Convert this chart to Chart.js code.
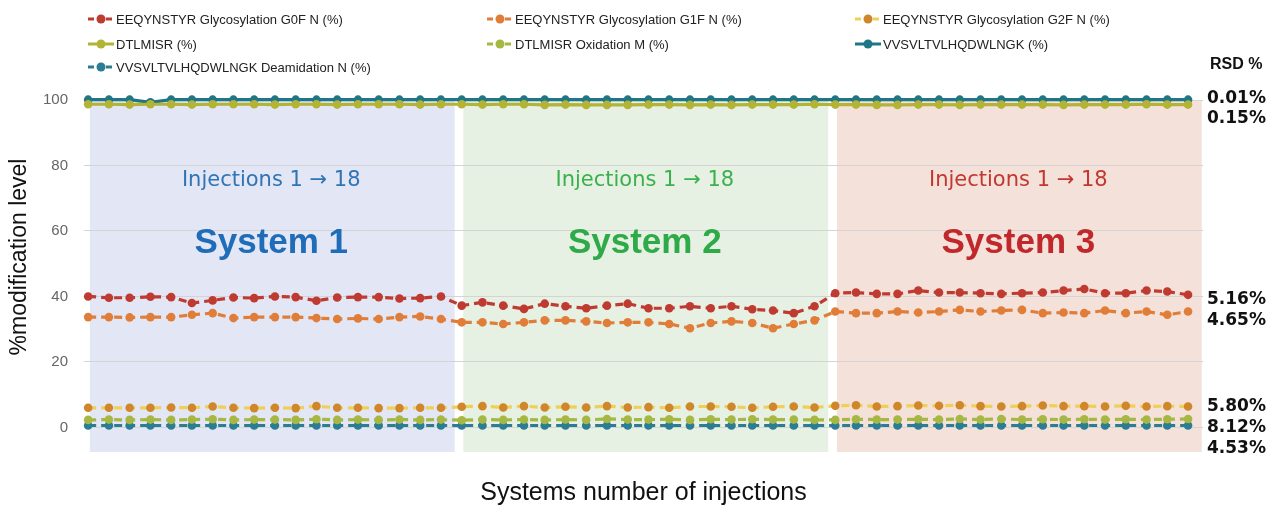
<!DOCTYPE html>
<html>
<head>
<meta charset="utf-8">
<script src="https://cdn.jsdelivr.net/npm/chart.js@4.4.1/dist/chart.umd.min.js"></script>
<style>
  html, body { margin: 0; background: #fff; }
</style>
</head>
<body>
<canvas id="chart" width="1273" height="508"></canvas>
<script>
// injections per system, 18 each
const systems = ["System 1", "System 2", "System 3"];
const injections = [1, 2, 3, 4, 5, 6, 7, 8, 9, 10, 11, 12, 13, 14, 15, 16, 17, 18];
const yTicks = [0, 20, 40, 60, 80, 100];

const g0f = [
    40.0, 39.6, 39.6, 39.9, 39.8, 38.0, 38.8, 39.7, 39.5, 40.0, 39.8, 38.7, 39.7, 39.8, 39.8, 39.4, 39.5, 40.0,
    37.2, 38.2, 37.2, 36.2, 37.8, 37.0, 36.4, 37.2, 37.8, 36.4, 36.4, 37.0, 36.4, 37.0, 36.1, 35.7, 34.9, 37.0,
    41.0, 41.2, 40.8, 40.8, 41.8, 41.2, 41.2, 41.0, 40.8, 41.0, 41.2, 41.8, 42.3, 41.0, 41.0, 41.8, 41.5, 40.5
];
const g1f = [
    33.7, 33.7, 33.6, 33.7, 33.7, 34.4, 34.9, 33.4, 33.7, 33.7, 33.7, 33.4, 33.1, 33.3, 33.1, 33.7, 33.9, 33.1,
    32.1, 32.1, 31.6, 32.1, 32.7, 32.7, 32.4, 31.9, 32.1, 32.1, 31.6, 30.3, 31.9, 32.4, 31.9, 30.3, 31.6, 32.7,
    35.4, 34.9, 34.9, 35.4, 35.1, 35.4, 35.9, 35.4, 35.7, 35.9, 34.9, 35.1, 34.9, 35.7, 34.9, 35.4, 34.4, 35.4
];
const g2f = [
    6.0, 6.0, 6.0, 6.0, 6.1, 6.0, 6.4, 6.0, 5.9, 6.0, 5.9, 6.5, 6.0, 6.0, 5.9, 5.9, 6.0, 6.0,
    6.3, 6.5, 6.1, 6.5, 6.1, 6.3, 6.1, 6.5, 6.1, 6.2, 6.0, 6.4, 6.4, 6.3, 6.0, 6.3, 6.4, 6.1,
    6.6, 6.8, 6.4, 6.5, 6.7, 6.6, 6.8, 6.5, 6.4, 6.5, 6.7, 6.5, 6.5, 6.4, 6.6, 6.4, 6.5, 6.4
];
const dtlmisr = [
    98.7, 98.7, 98.6, 98.7, 98.7, 98.6, 98.7, 98.7, 98.7, 98.6, 98.7, 98.7, 98.6, 98.7, 98.7, 98.7, 98.6, 98.7,
    98.7, 98.6, 98.7, 98.7, 98.5, 98.6, 98.5, 98.5, 98.5, 98.6, 98.6, 98.5, 98.6, 98.5, 98.6, 98.6, 98.6, 98.7,
    98.6, 98.6, 98.5, 98.5, 98.6, 98.6, 98.5, 98.6, 98.6, 98.6, 98.6, 98.5, 98.6, 98.6, 98.6, 98.7, 98.6, 98.6
];
const dtlmisrOx = [
    2.3, 2.4, 2.3, 2.4, 2.3, 2.4, 2.5, 2.3, 2.4, 2.4, 2.3, 2.5, 2.3, 2.4, 2.3, 2.4, 2.3, 2.4,
    2.2, 2.4, 2.3, 2.4, 2.3, 2.4, 2.3, 2.6, 2.4, 2.4, 2.5, 2.3, 2.5, 2.4, 2.5, 2.4, 2.4, 2.3,
    2.3, 2.5, 2.4, 2.4, 2.5, 2.4, 2.6, 2.4, 2.6, 2.4, 2.5, 2.4, 2.5, 2.4, 2.5, 2.4, 2.5, 2.6
];
const vvsv = [
    100.1, 100.1, 100.1, 99.3, 100.1, 100.1, 100.1, 100.1, 100.1, 100.1, 100.1, 100.1, 100.1, 100.1, 100.1, 100.1, 100.1, 100.1,
    100.1, 100.1, 100.1, 100.1, 100.1, 100.1, 100.1, 100.1, 100.1, 100.1, 100.1, 100.1, 100.1, 100.1, 100.1, 100.1, 100.1, 100.1,
    100.1, 100.1, 100.1, 100.1, 100.1, 100.1, 100.1, 100.1, 100.1, 100.1, 100.1, 100.1, 100.1, 100.1, 100.1, 100.1, 100.1, 100.1
];
const vvsvDeam = [
    0.6, 0.6, 0.6, 0.6, 0.6, 0.6, 0.6, 0.6, 0.6, 0.6, 0.6, 0.6, 0.6, 0.6, 0.6, 0.6, 0.6, 0.6,
    0.6, 0.6, 0.6, 0.6, 0.6, 0.6, 0.6, 0.6, 0.6, 0.6, 0.6, 0.6, 0.6, 0.6, 0.6, 0.6, 0.6, 0.6,
    0.6, 0.6, 0.6, 0.6, 0.6, 0.6, 0.6, 0.6, 0.6, 0.6, 0.6, 0.6, 0.6, 0.6, 0.6, 0.6, 0.6, 0.6
];

// RSD annotations on the right, with the level they sit at
const rsdLabels = ["0.01%", "0.15%", "5.16%", "4.65%", "5.80%", "8.12%", "4.53%"];
const rsdLevels = [100.3, 94.2, 39.1, 32.6, 6.4, 0.1, -6.5];

const systemFill = ["#e3e6f4", "#e6f0e3", "#f4e1da"];
const systemText = ["#1f6cb8", "#2eaa48", "#c0282c"];
const injectionText = ["#2f74b5", "#3bb04e", "#c2372f"];

const n = injections.length;
const points = (values) => values.map((v, i) => ({ x: i, y: v }));

const series = (label, values, color, dashed, pointColor) => ({
    label,
    data: points(values),
    borderColor: color,
    backgroundColor: color,
    pointBackgroundColor: pointColor || color,
    pointBorderColor: pointColor || color,
    pointRadius: 4.3,
    pointBorderWidth: 0,
    borderWidth: 3.2,
    borderDash: dashed ? [8, 5] : [],
    tension: 0,
    clip: false
});

const datasets = [
    series("EEQYNSTYR Glycosylation G0F N (%)", g0f, "#bf3a30", true),
    series("EEQYNSTYR Glycosylation G1F N (%)", g1f, "#e07d38", true),
    series("EEQYNSTYR Glycosylation G2F N (%)", g2f, "#f0cf55", true, "#cf872a"),
    series("DTLMISR (%)", dtlmisr, "#b3b336", false),
    series("DTLMISR Oxidation M (%)", dtlmisrOx, "#a6b843", true),
    series("VVSVLTVLHQDWLNGK (%)", vvsv, "#1f7686", false),
    series("VVSVLTVLHQDWLNGK Deamidation N (%)", vvsvDeam, "#2a7d92", true)
];

const shadeEdges = (scales, s) => {
    const first = s * n;
    return [scales.x.getPixelForValue(first + 0.08), scales.x.getPixelForValue(first + n - 1 + 0.66)];
};

const shadePlugin = {
    id: "systemShade",
    beforeDraw(chart) {
        const { ctx, scales } = chart;
        const y = scales.y;
        ctx.save();
        systems.forEach((name, s) => {
            const [x0, x1] = shadeEdges(scales, s);
            ctx.fillStyle = systemFill[s];
            ctx.fillRect(x0, y.getPixelForValue(100), x1 - x0, y.getPixelForValue(-7.5) - y.getPixelForValue(100));
        });
        ctx.restore();
    },
    beforeDatasetsDraw(chart) {
        const { ctx, scales } = chart;
        ctx.save();
        ctx.textAlign = "center";
        ctx.textBaseline = "middle";
        systems.forEach((name, s) => {
            const [x0, x1] = shadeEdges(scales, s);
            const cx = (x0 + x1) / 2 - 1;
            ctx.fillStyle = injectionText[s];
            ctx.font = "21px 'DejaVu Sans'";
            ctx.fillText(`Injections ${injections[0]} \u2192 ${injections[n - 1]}`, cx, scales.y.getPixelForValue(75.3));
            ctx.fillStyle = systemText[s];
            ctx.font = "bold 35px 'Liberation Sans'";
            ctx.fillText(name, cx, scales.y.getPixelForValue(56.3));
        });
        ctx.restore();
    }
};

const legendCols = [88, 487, 855];
const legendRows = [19, 44, 67];

const annotatePlugin = {
    id: "annotate",
    afterDraw(chart) {
        const { ctx, scales } = chart;
        ctx.save();
        // legend
        datasets.forEach((ds, i) => {
            const x = legendCols[i % 3];
            const y = legendRows[Math.floor(i / 3)];
            ctx.strokeStyle = ds.borderColor;
            ctx.lineWidth = 3;
            ctx.setLineDash(ds.borderDash.length ? [6, 3] : []);
            ctx.beginPath();
            ctx.moveTo(x, y);
            ctx.lineTo(x + 26, y);
            ctx.stroke();
            ctx.setLineDash([]);
            ctx.fillStyle = ds.pointBackgroundColor;
            ctx.beginPath();
            ctx.arc(x + 13, y, 4.5, 0, Math.PI * 2);
            ctx.fill();
            ctx.fillStyle = "#222";
            ctx.font = "13px 'Liberation Sans'";
            ctx.textAlign = "left";
            ctx.textBaseline = "middle";
            ctx.fillText(ds.label, x + 28, y + 1);
        });
        // y axis title, sits a bit above the plot centre
        ctx.save();
        ctx.translate(20, 257);
        ctx.rotate(-Math.PI / 2);
        ctx.fillStyle = "#111";
        ctx.font = "23px 'Liberation Sans'";
        ctx.textAlign = "center";
        ctx.textBaseline = "middle";
        ctx.fillText("%modification level", 0, 0);
        ctx.restore();
        // RSD column
        ctx.fillStyle = "#111";
        ctx.textAlign = "left";
        ctx.textBaseline = "middle";
        ctx.font = "bold 16px 'Liberation Sans'";
        ctx.fillText("RSD %", 1210, 65);
        ctx.font = "bold 17px 'DejaVu Sans'";
        rsdLabels.forEach((t, i) => {
            ctx.fillText(t, 1207, scales.y.getPixelForValue(rsdLevels[i]));
        });
        ctx.restore();
    }
};

new Chart(document.getElementById("chart"), {
    type: "line",
    data: { datasets },
    options: {
        responsive: false,
        animation: false,
        events: [],
        layout: { padding: { top: 100, right: 70, left: 0, bottom: 0 } },
        scales: {
            x: {
                type: "linear",
                min: -0.2,
                max: n * systems.length - 1 + 0.72,
                grid: { display: false },
                border: { display: false },
                ticks: { display: false },
                title: {
                    display: true,
                    text: "Systems number of injections",
                    color: "#111",
                    font: { family: "Liberation Sans", size: 25 },
                    padding: { top: 0, bottom: 0 }
                },
                afterFit(scale) { scale.height = 56; }
            },
            y: {
                min: -7.5,
                max: 100,
                afterBuildTicks(scale) { scale.ticks = yTicks.map(v => ({ value: v })); },
                grid: { color: "#d4d4d4", lineWidth: 1, drawTicks: false },
                border: { display: false },
                ticks: {
                    color: "#666",
                    padding: 16,
                    font: { family: "Liberation Sans", size: 15 }
                },
                afterFit(scale) { scale.width = 84; }
            }
        },
        plugins: {
            legend: { display: false },
            tooltip: { enabled: false }
        }
    },
    plugins: [shadePlugin, annotatePlugin]
});
</script>
</body>
</html>
